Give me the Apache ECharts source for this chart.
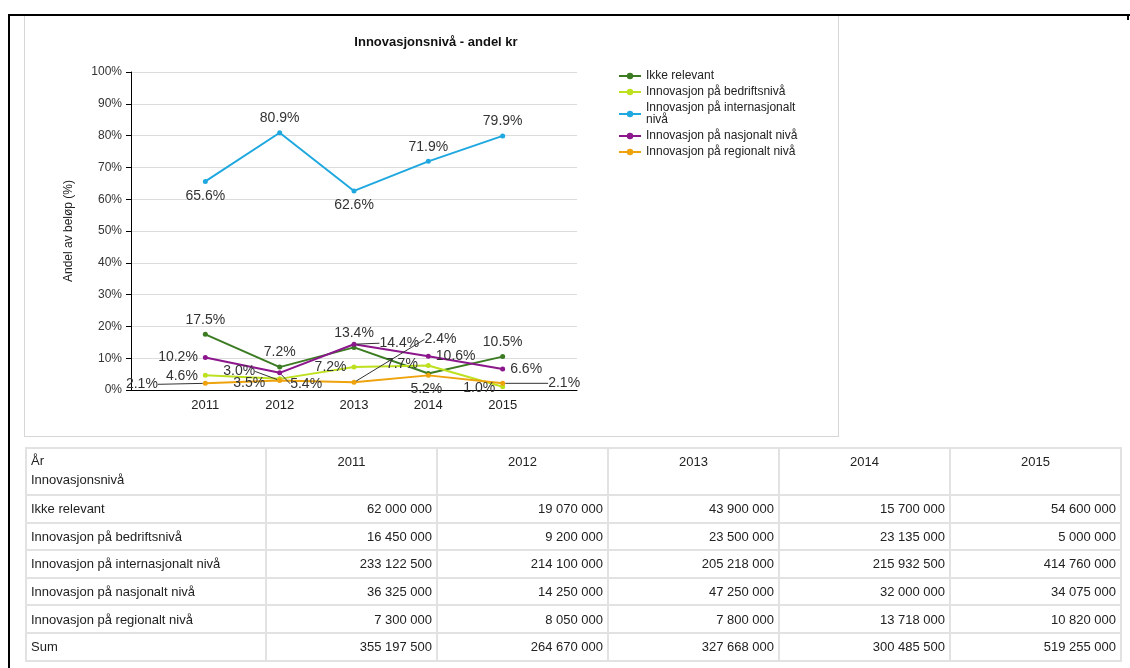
<!DOCTYPE html>
<html>
<head>
<meta charset="utf-8">
<title>Innovasjonsnivå - andel kr</title>
<script src="https://cdn.jsdelivr.net/npm/echarts@6/dist/echarts.min.js"></script>
<style>
  html, body { margin: 0; padding: 0; background: #fff; width: 1130px; height: 668px; overflow: hidden;
    font-family: "Liberation Sans", Arial, sans-serif; }
  #chart { position: absolute; left: 0; top: 0; width: 1130px; height: 668px; }
  .frame-top { position: absolute; left: 8px; top: 14px; width: 1122px; height: 2px; background: #000; }
  .frame-left { position: absolute; left: 8px; top: 14px; width: 2px; height: 654px; background: #000; }
  .frame-tick { position: absolute; left: 1127px; top: 14px; width: 2px; height: 6px; background: #000; }
  .panel { position: absolute; left: 24px; top: 16px; width: 813px; height: 420px;
    border-left: 1px solid #d6d6d6; border-right: 1px solid #d6d6d6; border-bottom: 1px solid #d6d6d6; pointer-events: none; }
  table { position: absolute; left: 25px; top: 447px; width: 1095px; border-collapse: collapse; table-layout: fixed;
    font-size: 13px; color: #222; }
  td { border: 2px solid #e2e2e2; padding: 0 4px 0 4px; height: 25.6px; white-space: nowrap; }
  td.num { text-align: right; }
  tr.head td { height: 40px; vertical-align: top; padding-top: 5px; text-align: center; }
  tr.head td.lead { text-align: left; line-height: 19px; padding-top: 2px; }
</style>
</head>
<body>
<div id="chart"></div>
<div class="panel"></div>
<div class="frame-top"></div>
<div class="frame-left"></div>
<div class="frame-tick"></div>
<table id="tbl"></table>
<script>
// Years on the x axis and in the table header
const years = [2011, 2012, 2013, 2014, 2015];

// Share of amount (%) per innovation level
const ikkeRelevantPct = [17.5, 7.2, 13.4, 5.2, 10.5];
const bedriftsnivaPct = [4.6, 3.5, 7.2, 7.7, 1.0];
const internasjonaltPct = [65.6, 80.9, 62.6, 71.9, 79.9];
const nasjonaltPct = [10.2, 5.4, 14.4, 10.6, 6.6];
const regionaltPct = [2.1, 3.0, 2.4, 4.6, 2.1];

// Amounts (kr) per innovation level
const ikkeRelevantKr = [62000000, 19070000, 43900000, 15700000, 54600000];
const bedriftsnivaKr = [16450000, 9200000, 23500000, 23135000, 5000000];
const internasjonaltKr = [233122500, 214100000, 205218000, 215932500, 414760000];
const nasjonaltKr = [36325000, 14250000, 47250000, 32000000, 34075000];
const regionaltKr = [7300000, 8050000, 7800000, 13718000, 10820000];
const sumKr = [355197500, 264670000, 327668000, 300485500, 519255000];

const yTicks = [0, 10, 20, 30, 40, 50, 60, 70, 80, 90, 100];

const levels = [
  { name: 'Ikke relevant', pct: ikkeRelevantPct, kr: ikkeRelevantKr, color: '#3b7b21' },
  { name: 'Innovasjon på bedriftsnivå', pct: bedriftsnivaPct, kr: bedriftsnivaKr, color: '#bde11f' },
  { name: 'Innovasjon på internasjonalt nivå', pct: internasjonaltPct, kr: internasjonaltKr, color: '#1fa8e0' },
  { name: 'Innovasjon på nasjonalt nivå', pct: nasjonaltPct, kr: nasjonaltKr, color: '#8c168c' },
  { name: 'Innovasjon på regionalt nivå', pct: regionaltPct, kr: regionaltKr, color: '#eea20c' }
];

// Where each value label sits: [position, dx, dy, callout line]; null hides the label
const labelPlacement = [
  [['top'], ['top'], ['top'], ['bottom', -2, 1], ['top']],
  [['left', 0, 1], ['left', -7, 4], ['left'], ['left', -3, -1], ['left', 0, 1]],
  [['bottom'], ['top'], ['bottom'], ['top'], ['top']],
  [['left'], ['right', 3, 11, true], ['right', 18, -1, true], ['right'], ['right']],
  [['left', -40, 1, true], ['left', -17, -9, true], ['right', 63, -43, true], null, ['right', 38, 0, true]]
];

const series = levels.map((lv, si) => ({
  name: lv.name,
  type: 'line',
  symbol: 'circle',
  symbolSize: 5,
  lineStyle: { width: 2, color: lv.color },
  itemStyle: { color: lv.color },
  labelLine: { show: false },
  data: years.map((y, i) => {
    const pl = labelPlacement[si][i];
    return {
      value: [y, lv.pct[i]],
      label: pl ? { show: true, position: pl[0] } : { show: false },
      labelLine: { show: !!(pl && pl[3]), lineStyle: { color: '#333', width: 1 } }
    };
  }),
  label: {
    show: true,
    distance: 5,
    fontSize: 14,
    color: '#333',
    fontFamily: 'Liberation Sans, Arial, sans-serif',
    formatter: p => p.value[1].toFixed(1) + '%'
  },
  labelLayout: p => {
    const pl = labelPlacement[p.seriesIndex][p.dataIndex];
    if (!pl) return {};
    return { dx: pl[1] || 0, dy: pl[2] || 0 };
  }
}));

// Long legend names break before their last word
const wrapName = name => {
  if (name.length <= 30) return name;
  const cut = name.lastIndexOf(' ');
  return name.slice(0, cut) + '\n' + name.slice(cut + 1);
};

const chart = echarts.init(document.getElementById('chart'), null, { renderer: 'canvas' });
chart.setOption({
  animation: false,
  backgroundColor: 'transparent',
  textStyle: { fontFamily: 'Liberation Sans, Arial, sans-serif' },
  title: {
    text: 'Innovasjonsnivå - andel kr',
    left: 431, top: 31, textAlign: 'center',
    textStyle: { fontSize: 13, fontWeight: 'bold', color: '#111' }
  },
  legend: {
    orient: 'vertical',
    left: 613, top: 65,
    itemWidth: 22, itemHeight: 8, itemGap: 4,
    formatter: wrapName,
    textStyle: { fontSize: 12, color: '#222', lineHeight: 12 },
    data: levels.map(l => ({ name: l.name, itemStyle: { color: l.color } }))
  },
  grid: { left: 131, top: 72, right: 553, bottom: 278, containLabel: false },
  xAxis: {
    type: 'value', min: 2010, max: 2016, interval: 1,
    axisLine: { lineStyle: { color: '#000', width: 1 } },
    axisTick: { show: false },
    splitLine: { show: false },
    axisLabel: {
      fontSize: 13, color: '#222', margin: 9,
      formatter: v => (years.indexOf(v) >= 0 ? String(v) : '')
    }
  },
  yAxis: {
    type: 'value', min: yTicks[0], max: yTicks[yTicks.length - 1], interval: 10,
    name: 'Andel av beløp (%)',
    nameLocation: 'middle', nameGap: 56, nameRotate: 90,
    nameTextStyle: { fontSize: 12, color: '#222' },
    axisLine: { show: true, lineStyle: { color: '#000', width: 1 } },
    axisTick: { show: true, length: 5, lineStyle: { color: '#000' } },
    splitLine: { lineStyle: { color: '#dcdcdc', width: 1 } },
    axisLabel: { fontSize: 12, color: '#333', margin: 9, formatter: '{value}%' }
  },
  series: series
});

// Amount table under the chart
const fmt = n => String(n).replace(/\B(?=(\d{3})+(?!\d))/g, ' ');
const tbl = document.getElementById('tbl');
let html = '<colgroup><col style="width:240px">' + years.map(() => '<col style="width:171px">').join('') + '</colgroup>';
html += '<tr class="head"><td class="lead">År<br>Innovasjonsnivå</td>' + years.map(y => '<td>' + y + '</td>').join('') + '</tr>';
levels.forEach(l => {
  html += '<tr><td>' + l.name + '</td>' + l.kr.map(v => '<td class="num">' + fmt(v) + '</td>').join('') + '</tr>';
});
html += '<tr><td>Sum</td>' + sumKr.map(v => '<td class="num">' + fmt(v) + '</td>').join('') + '</tr>';
tbl.innerHTML = html;
</script>
</body>
</html>
